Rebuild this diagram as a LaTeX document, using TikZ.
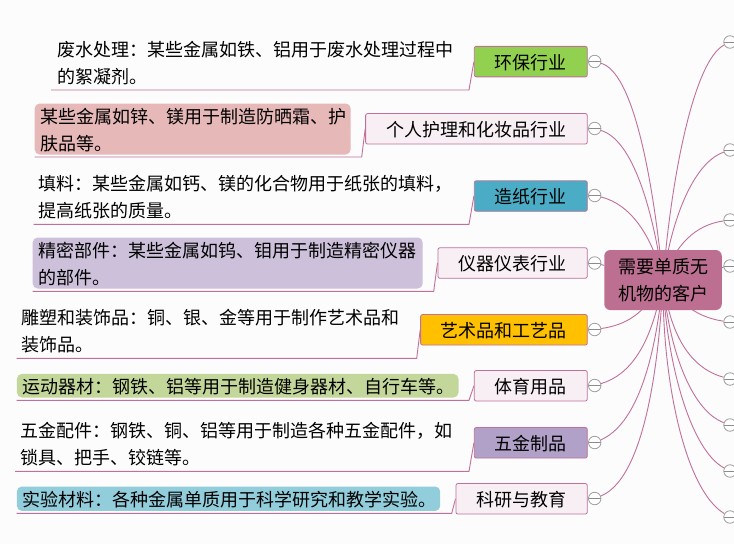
\documentclass[tikz,border=0pt]{standalone}
\usepackage{fontspec}
\setmainfont{Noto Sans CJK SC}
\usetikzlibrary{backgrounds}
\definecolor{linkcol}{HTML}{C0709A}
\definecolor{paper}{HTML}{FCFCFC}
\definecolor{rootcol}{HTML}{BC6F90}
\definecolor{palecol}{HTML}{F8EFF4}
\definecolor{greencol}{HTML}{92D050}
\definecolor{bluecol}{HTML}{4BACC6}
\definecolor{goldcol}{HTML}{FFC000}
\definecolor{purplecol}{HTML}{B1A0C7}
\definecolor{leafred}{HTML}{E6B8B7}
\definecolor{leafpurple}{HTML}{CCC0DA}
\definecolor{leafgreen}{HTML}{C4D79B}
\definecolor{leafblue}{HTML}{92CDDC}

\begin{document}
\begin{tikzpicture}[x=1pt,y=-1pt,
	txt/.style = {font=\fontsize{18}{27}\selectfont},
	root/.style = {txt, fill=rootcol, rounded corners=6pt, minimum width=117.5pt, minimum height=60pt, align=center, inner sep=0pt},
	box/.style = {txt, draw=linkcol, line width=0.8pt, rounded corners=2pt, anchor=east, minimum height=30.5pt, inner sep=0pt, text height=17.5pt, text depth=2pt},
	leaf/.style = {txt, rounded corners=5pt, anchor=north west, align=left, inner xsep=5.5pt, inner ysep=0pt},
	lowone/.style = {text height=17.5pt, text depth=2pt},
	lowtwo/.style = {text height=17.5pt, text depth=29pt},
	fold/.style = {circle, draw=gray!75, fill=white, line width=0.8pt, minimum size=12.5pt, inner sep=0pt,
		path picture={\draw[gray!90] (path picture bounding box.west) -- (path picture bounding box.east);}},
	link/.style = {draw=linkcol, line width=0.9pt}]
	\useasboundingbox (0,0) rectangle (734,544);
	\node[root] (root) at (663,280) {需要单质无\\机物的客户};

	\node[box, fill=greencol, minimum width=113pt] (huanbao) at (587.7,61.6) {环保行业};
	\node[box, fill=palecol, minimum width=221.7pt] (huli) at (587.7,128.8) {个人护理和化妆品行业};
	\node[box, fill=bluecol, minimum width=113pt] (zaozhi) at (587.7,196) {造纸行业};
	\node[box, fill=palecol, minimum width=149.4pt] (yiqi) at (587.7,263) {仪器仪表行业};
	\node[box, fill=goldcol, minimum width=166.7pt] (yishu) at (587.7,329.8) {艺术品和工艺品};
	\node[box, fill=palecol, minimum width=113pt] (tiyu) at (587.7,385.8) {体育用品};
	\node[box, fill=purplecol, minimum width=113pt] (wujin) at (587.7,442.8) {五金制品};
	\node[box, fill=palecol, minimum width=131.4pt] (keyan) at (587.7,498.8) {科研与教育};

	\node[fold] (f1) at (594.7,61.5) {};
	\node[fold] (f2) at (594.7,128.5) {};
	\node[fold] (f3) at (594.7,195.5) {};
	\node[fold] (f4) at (594.7,263) {};
	\node[fold] (f5) at (594.7,329.5) {};
	\node[fold] (f6) at (594.7,385.5) {};
	\node[fold] (f7) at (594.7,442.5) {};
	\node[fold] (f8) at (594.7,498.5) {};

	\node[fold] (r1) at (730,42) {};
	\node[fold] (r2) at (730,150) {};
	\node[fold] (r3) at (730,220) {};
	\node[fold] (r4) at (730,266) {};
	\node[fold] (r5) at (730,322) {};
	\node[fold] (r6) at (730,379) {};
	\node[fold] (r7) at (730,425) {};
	\node[fold] (r8) at (730,471) {};
	\node[fold] (r9) at (730,517) {};

	\node[leaf, text width=410pt, minimum height=54pt] (l1) at (51.5,36) {废水处理：某些金属如铁、铝用于废水处理过程中\\的絮凝剂。};
	\node[leaf, lowtwo, fill=leafred, text width=305pt, minimum height=51pt] (l2) at (34.5,103.3) {某些金属如锌、镁用于制造防晒霜、护\\肤品等。};
	\node[leaf, text width=420pt, minimum height=54pt] (l3) at (32.5,170) {填料：某些金属如钙、镁的化合物用于纸张的填料，\\提高纸张的质量。};
	\node[leaf, lowtwo, fill=leafpurple, text width=379pt, minimum height=51pt] (l4) at (32.5,237.3) {精密部件：某些金属如钨、钼用于制造精密仪器\\的部件。};
	\node[leaf, text width=390pt, minimum height=54pt] (l5) at (15.7,304) {雕塑和装饰品：铜、银、金等用于制作艺术品和\\装饰品。};
	\node[leaf, lowone, fill=leafgreen, text width=430.6pt, minimum height=23.6pt] (l6) at (16.7,373.7) {运动器材：钢铁、铝等用于制造健身器材、自行车等。};
	\node[leaf, text width=440pt, minimum height=54pt] (l7) at (14.5,417) {五金配件：钢铁、铜、铝等用于制造各种五金配件，如\\锁具、把手、铰链等。};
	\node[leaf, lowone, fill=leafblue, text width=412.3pt, minimum height=24.4pt] (l8) at (16.7,486.3) {实验材料：各种金属单质用于科学研究和教学实验。};

	\coordinate (a1) at (51,90);
	\coordinate (b1) at (469,90);
	\coordinate (a2) at (34.5,157);
	\coordinate (b2) at (361.7,157);
	\coordinate (a3) at (33.5,224.3);
	\coordinate (b3) at (469,224.3);
	\coordinate (a4) at (32.5,291.3);
	\coordinate (b4) at (433.7,291.3);
	\coordinate (a5) at (16.7,358.3);
	\coordinate (b5) at (416.7,358.3);
	\coordinate (a6) at (16.7,400.3);
	\coordinate (b6) at (469,400.3);
	\coordinate (a7) at (15,471.3);
	\coordinate (b7) at (469,471.3);
	\coordinate (a8) at (16.7,513.3);
	\coordinate (b8) at (451.7,513.3);

	\begin{pgfonlayer}{background}
		\fill[paper] (0,0) rectangle (734,544);
		\draw[link] (a1) -- (b1) -- (huanbao.west);
		\draw[link] (a2) -- (b2) -- (huli.west);
		\draw[link] (a3) -- (b3) -- (zaozhi.west);
		\draw[link] (a4) -- (b4) -- (yiqi.west);
		\draw[link] (a5) -- (b5) -- (yishu.west);
		\draw[link] (a6) -- (b6) -- (tiyu.west);
		\draw[link] (a7) -- (b7) -- (wujin.west);
		\draw[link] (a8) -- (b8) -- (keyan.west);

		\draw[link] (f1) .. controls (632,72) and (652,170) .. (root.center);
		\draw[link] (f2) .. controls (632,140) and (652,205) .. (root.center);
		\draw[link] (f3) .. controls (630,204) and (652,235) .. (root.center);
		\draw[link] (f4) -- (root);
		\draw[link] (f5) .. controls (625,325) and (645,315) .. (root.center);
		\draw[link] (f6) .. controls (630,375) and (652,345) .. (root.center);
		\draw[link] (f7) .. controls (635,425) and (655,365) .. (root.center);
		\draw[link] (f8) .. controls (640,480) and (658,385) .. (root.center);

		\draw[link] (r1) .. controls (695,60) and (672,170) .. (root.center);
		\draw[link] (r2) .. controls (695,162) and (672,215) .. (root.center);
		\draw[link] (r3) .. controls (695,225) and (675,245) .. (root.center);
		\draw[link] (r4) -- (root);
		\draw[link] (r5) .. controls (700,318) and (680,305) .. (root.center);
		\draw[link] (r6) .. controls (690,368) and (670,335) .. (root.center);
		\draw[link] (r7) .. controls (690,410) and (668,345) .. (root.center);
		\draw[link] (r8) .. controls (690,450) and (666,360) .. (root.center);
		\draw[link] (r9) .. controls (685,490) and (662,380) .. (root.center);
	\end{pgfonlayer}
\end{tikzpicture}
\end{document}
